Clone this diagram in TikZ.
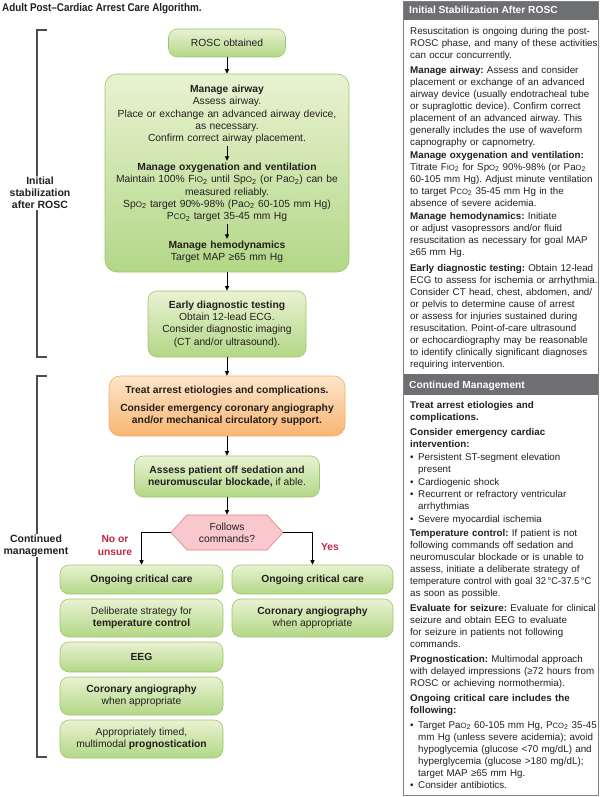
\documentclass[tikz,border=0pt]{standalone}
\usepackage{fontspec}
\setmainfont{Liberation Sans}
\newfontfamily\condfont[FakeStretch=0.88]{Liberation Sans}
\usepackage{graphicx}
\usetikzlibrary{arrows.meta,shapes.symbols}
\definecolor{txt}{HTML}{231F20}
\definecolor{gtop}{HTML}{E9F2D2}
\definecolor{gbot}{HTML}{B2D786}
\definecolor{gline}{HTML}{9CC56E}
\definecolor{otop}{HTML}{FDE5CB}
\definecolor{obot}{HTML}{F8B571}
\definecolor{oline}{HTML}{F0AE6C}
\definecolor{pfill}{HTML}{F9C8CC}
\definecolor{pline}{HTML}{E17C86}
\definecolor{redtxt}{HTML}{C1283E}
\definecolor{hdr}{HTML}{6E6F72}
\definecolor{pbord}{HTML}{808080}
\definecolor{brk}{HTML}{4D4D4F}
\newcommand\smallc[1]{\scalebox{0.78}{#1}}
\newcommand\two{\textsubscript{2}}
\newcommand\fcfont{\fontsize{10.3}{12.3}\selectfont}
\newcommand\pfont{\fontsize{9.8}{12}\selectfont}
\newcommand\bul{\makebox[8pt][l]{\textbullet}}
\newcommand\ind{\hspace*{8pt}}
\frenchspacing
\tikzset{
 gbox/.style={draw=gline, line width=0.6pt, rounded corners=9pt, top color=gtop, bottom color=gbot, align=center, font=\fcfont, text=txt, inner sep=2pt},
 obox/.style={gbox, draw=oline, top color=otop, bottom color=obot},
 arr/.style={-{Triangle[length=4.5pt,width=4pt]}, line width=0.8pt, draw=black},
 intext/.style={align=center, text width=240pt, font=\fcfont, text=txt, inner sep=2pt, anchor=base},
 ptext/.style={align=left, text width=200pt, font=\pfont, text=txt, inner sep=0pt, anchor=base west},
 hdrtext/.style={font=\fontsize{10.2}{12}\selectfont\bfseries, text=white, anchor=base west, inner sep=0pt},
 brack/.style={draw=brk, line width=1.3pt},
 blabel/.style={font=\fontsize{10.5}{12}\selectfont\bfseries, align=center, fill=white, text=txt, inner sep=1pt},
 ylabel/.style={font=\fcfont\bfseries, text=redtxt, align=center, inner sep=0pt},
}
\begin{document}
\begin{tikzpicture}[x=1pt,y=-1pt]
\useasboundingbox (0,0) rectangle (600,797);
% title
\node[anchor=base west, inner sep=0pt, font=\condfont\bfseries\fontsize{11.2}{13}\selectfont, text=txt] (title) at (2,12) {Adult Post–Cardiac Arrest Care Algorithm.};

% brackets
\draw[brack] (47,30) -- (37,30) -- (37,357) -- (47,357);
\node[blabel] (lab1) at (40,193) {Initial\\stabilization\\after ROSC};
\draw[brack] (47,376) -- (37,376) -- (37,757) -- (47,757);
\node[blabel] (lab2) at (36,545.5) {Continued\\management};

% flow boxes
\node[gbox, minimum width=117pt, minimum height=28pt] (rosc) at (227,43) {ROSC obtained};
\node[gbox, rounded corners=12pt, minimum width=244pt, minimum height=198pt] (stab) at (227,173) {};
\node[intext] (airT) at (227,92.5) {{\bfseries Manage airway}\\Assess airway.\\Place or exchange an advanced airway device,\\as necessary.\\Confirm correct airway placement.};
\node[intext] (oxyT) at (227,170.5) {{\bfseries Manage oxygenation and ventilation}\\Maintain 100\% F\smallc{IO}\two\ until Sp\smallc{O}\two\ (or Pa\smallc{O}\two) can be\\measured reliably.\\Sp\smallc{O}\two\ target 90\%-98\% (Pa\smallc{O}\two\ 60-105 mm Hg)\\P\smallc{CO}\two\ target 35-45 mm Hg};
\node[intext] (hemT) at (227,248.5) {{\bfseries Manage hemodynamics}\\Target MAP ≥65 mm Hg};
\node[gbox, minimum width=158pt, minimum height=66pt] (early) at (227,324) {{\bfseries Early diagnostic testing}\\Obtain 12-lead ECG.\\Consider diagnostic imaging\\(CT and/or ultrasound).};
\node[obox, rounded corners=11pt, minimum width=236pt, minimum height=60pt] (treat) at (227,406) {{\bfseries Treat arrest etiologies and complications.}\\[5pt]{\bfseries Consider emergency coronary angiography}\\{\bfseries and/or mechanical circulatory support.}};
\node[gbox, minimum width=185pt, minimum height=41pt] (assess) at (227,476.5) {{\bfseries Assess patient off sedation and}\\{\bfseries neuromuscular blockade,} if able.};
\node[signal, signal to=east and west, signal pointer angle=95, minimum width=112pt, minimum height=35pt, fill=pfill, draw=pline, line width=0.6pt, font=\fcfont, text=txt, align=center, inner sep=1pt] (cmd) at (227,532.5) {Follows\\commands?};

% left column
\node[gbox, minimum width=163pt, minimum height=29pt] (L1) at (141.5,579.5) {{\bfseries Ongoing critical care}};
\node[gbox, minimum width=163pt, minimum height=38pt] (L2) at (141.5,618) {Deliberate strategy for\\{\bfseries temperature control}};
\node[gbox, minimum width=163pt, minimum height=30pt] (L3) at (141.5,657) {{\bfseries EEG}};
\node[gbox, minimum width=163pt, minimum height=38pt] (L4) at (141.5,696) {{\bfseries Coronary angiography}\\when appropriate};
\node[gbox, minimum width=163pt, minimum height=38pt] (L5) at (141.5,739) {Appropriately timed,\\multimodal {\bfseries prognostication}};
% right column
\node[gbox, minimum width=161pt, minimum height=29pt] (R1) at (312.5,579.5) {{\bfseries Ongoing critical care}};
\node[gbox, minimum width=161pt, minimum height=38pt] (R2) at (312.5,618) {{\bfseries Coronary angiography}\\when appropriate};

% connectors
\draw[arr] (rosc.south) -- (stab.north);
\draw[arr] (airT) -- (oxyT);
\draw[arr] (oxyT) -- (hemT);
\draw[arr] (stab.south) -- (early.north);
\draw[arr] (early.south) -- (treat.north);
\draw[arr] (treat.south) -- (assess.north);
\draw[arr] (assess.south) -- (cmd.north);
\draw[arr] (cmd.west) -| (L1.north);
\draw[arr] (cmd.east) -| (R1.north);
\node[ylabel] (no) at (115,545.5) {No or\\unsure};
\node[ylabel] (yes) at (330,547) {Yes};

% right panel
\fill[hdr] (403,1) rectangle (598,20);
\fill[hdr] (403,374) rectangle (598,395);
\draw[pbord, line width=0.8pt] (403,1) rectangle (598,795);
\node[hdrtext] (h1) at (409,13.8) {Initial Stabilization After ROSC};
\node[hdrtext] (h2) at (409,388.5) {Continued Management};

\node[ptext] (p1) at (410,34.3) {Resuscitation is ongoing during the post-\\ROSC phase, and many of these activities\\can occur concurrently.};
\node[ptext] (p2) at (410,73.3) {\textbf{Manage airway:} Assess and consider\\placement or exchange of an advanced\\airway device (usually endotracheal tube\\or supraglottic device). Confirm correct\\placement of an advanced airway. This\\generally includes the use of waveform\\capnography or capnometry.};
\node[ptext] (p3) at (410,158.3) {\textbf{Manage oxygenation and ventilation:}\\Titrate F\smallc{IO}\two\ for Sp\smallc{O}\two\ 90\%-98\% (or Pa\smallc{O}\two\\60-105 mm Hg). Adjust minute ventilation\\to target P\smallc{CO}\two\ 35-45 mm Hg in the\\absence of severe acidemia.};
\node[ptext] (p4) at (410,219.3) {\textbf{Manage hemodynamics:} Initiate\\or adjust vasopressors and/or fluid\\resuscitation as necessary for goal MAP\\≥65 mm Hg.};
\node[ptext] (p5) at (410,271.3) {\textbf{Early diagnostic testing:} Obtain 12-lead\\ECG to assess for ischemia or arrhythmia.\\Consider CT head, chest, abdomen, and/\\or pelvis to determine cause of arrest\\or assess for injuries sustained during\\resuscitation. Point-of-care ultrasound\\or echocardiography may be reasonable\\to identify clinically significant diagnoses\\requiring intervention.};

\node[ptext, font=\pfont\bfseries] (c1) at (410,408.3) {Treat arrest etiologies and\\complications.};
\node[ptext, font=\pfont\bfseries] (c2) at (410,435.3) {Consider emergency cardiac\\intervention:};
\node[ptext, font=\fontsize{9.8}{12.4}\selectfont] (c3) at (410,460.3) {\bul Persistent ST-segment elevation\\\ind present\\\bul Cardiogenic shock\\\bul Recurrent or refractory ventricular\\\ind arrhythmias\\\bul Severe myocardial ischemia};
\node[ptext] (c4) at (410,536.3) {\textbf{Temperature control:} If patient is not\\following commands off sedation and\\neuromuscular blockade or is unable to\\assess, initiate a deliberate strategy of\\\scalebox{0.955}[1]{temperature control with goal 32\,°C-37.5\,°C}\\as soon as possible.};
\node[ptext] (c5) at (410,611.3) {\textbf{Evaluate for seizure:} Evaluate for clinical\\seizure and obtain EEG to evaluate\\for seizure in patients not following\\commands.};
\node[ptext] (c6) at (410,662.3) {\textbf{Prognostication:} Multimodal approach\\with delayed impressions (≥72 hours from\\ROSC or achieving normothermia).};
\node[ptext, font=\pfont\bfseries] (c7) at (410,701.3) {Ongoing critical care includes the\\following:};
\node[ptext] (c8) at (410,728.3) {\bul Target Pa\smallc{O}\two\ 60-105 mm Hg, P\smallc{CO}\two\ 35-45\\\ind mm Hg (unless severe acidemia); avoid\\\ind hypoglycemia (glucose <70 mg/dL) and\\\ind hyperglycemia (glucose >180 mg/dL);\\\ind target MAP ≥65 mm Hg.\\\bul Consider antibiotics.};
\end{tikzpicture}
\end{document}
